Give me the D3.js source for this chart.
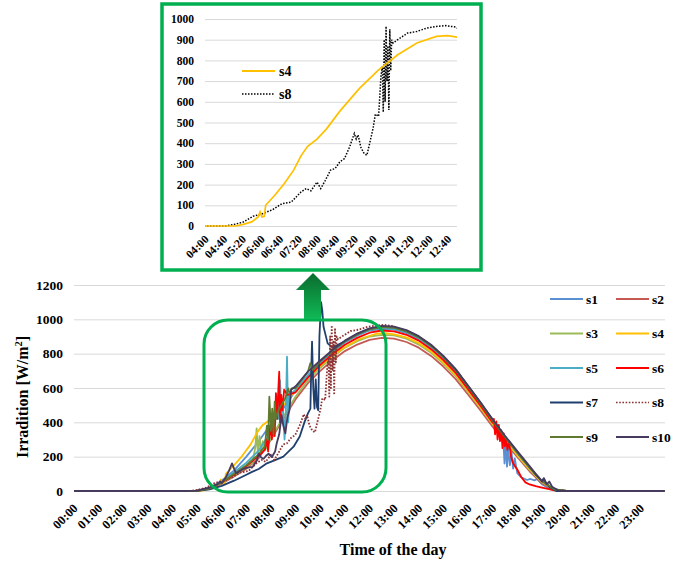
<!DOCTYPE html>
<html lang="en">
<head>
<meta charset="UTF-8">
<title>Irradiation over the day</title>
<script src="https://cdn.jsdelivr.net/npm/d3@7"></script>
<style>
  body { margin: 0; background: #fff; }
  svg { font-family: "Liberation Serif", "Times New Roman", serif; font-weight: bold; }
</style>
</head>
<body>
<script>
    // tick labels
    const hourLabels = ["00:00", "01:00", "02:00", "03:00", "04:00", "05:00", "06:00", "07:00",
        "08:00", "09:00", "10:00", "11:00", "12:00", "13:00", "14:00", "15:00",
        "16:00", "17:00", "18:00", "19:00", "20:00", "21:00", "22:00", "23:00"];
    const insetLabels = ["04:00", "04:40", "05:20", "06:00", "06:40", "07:20", "08:00",
        "08:40", "09:20", "10:00", "10:40", "11:20", "12:00", "12:40"];
    const yTicks = [0, 200, 400, 600, 800, 1000, 1200];
    const insetYTicks = [0, 100, 200, 300, 400, 500, 600, 700, 800, 900, 1000];

    const seriesNames = ["s1", "s2", "s3", "s4", "s5", "s6", "s7", "s8", "s9", "s10"];
    const seriesColors = ["#5a8fd2", "#c55a55", "#9bbb59", "#ffc000", "#4bacc6",
        "#ff0000", "#1f3f6e", "#8c3333", "#5f7a2e", "#463a5e"];

    // series: [time, W/m2]
    const s1 = [["00:00",0],["04:30",0],["05:00",2],["05:30",18],["06:00",60],["06:30",120],["07:00",200],["07:30",290],["08:00",390],["08:30",480],["09:00",585],["09:30",670],["10:00",745],["10:30",810],["11:00",865],["11:30",905],["12:00",935],["12:30",945],["13:00",940],["13:30",920],["14:00",885],["14:30",835],["15:00",770],["15:30",695],["16:00",600],["16:30",505],["17:00",405],["17:20",340],["17:26",297],["17:29",160],["17:32",280],["17:35",142],["17:38",250],["17:42",150],["17:46",230],["17:50",130],["17:54",190],["18:00",104],["18:10",80],["18:24",64],["18:32",70],["18:42",62],["18:48",70],["19:00",40],["19:20",12],["19:40",0],["23:59",0]];
    const s2 = [["00:00",0],["04:30",0],["05:00",1],["05:30",12],["06:00",42],["06:30",85],["07:00",130],["07:30",190],["08:00",300],["08:30",420],["09:00",535],["09:30",628],["10:00",700],["10:30",762],["11:00",815],["11:30",853],["12:00",880],["12:30",892],["13:00",888],["13:30",868],["14:00",835],["14:30",787],["15:00",725],["15:30",652],["16:00",562],["16:30",470],["17:00",375],["17:30",285],["18:00",198],["18:30",115],["19:00",45],["19:30",8],["20:00",0],["23:59",0]];
    const s3 = [["00:00",0],["04:30",0],["05:00",1],["05:30",14],["06:00",45],["06:30",90],["07:00",140],["07:15",165],["07:22",258],["07:25",365],["07:28",210],["07:32",320],["07:36",230],["07:40",290],["07:46",240],["08:00",310],["08:30",430],["09:00",550],["09:30",645],["10:00",718],["10:30",780],["11:00",835],["11:30",873],["12:00",900],["12:30",910],["13:00",906],["13:30",887],["14:00",853],["14:30",805],["15:00",742],["15:30",669],["16:00",577],["16:30",485],["17:00",388],["17:30",296],["18:00",208],["18:30",125],["19:00",52],["19:30",10],["20:00",0],["23:59",0]];
    const s4 = [["00:00",0],["05:05",0],["05:22",8],["05:40",20],["05:54",44],["05:58",68],["06:02",44],["06:07",47],["06:10",100],["06:30",150],["06:50",205],["07:10",270],["07:26",340],["07:40",385],["08:00",420],["08:20",468],["08:49",555],["09:31",665],["10:12",754],["10:53",827],["11:34",884],["12:16",916],["12:40",920],["13:00",912],["13:30",895],["14:00",862],["14:30",814],["15:00",750],["15:30",677],["16:00",584],["16:30",490],["17:00",392],["17:30",300],["18:00",210],["18:30",127],["19:00",53],["19:30",10],["20:00",0],["23:59",0]];
    const s5 = [["00:00",0],["04:30",0],["05:00",2],["05:30",16],["06:00",55],["06:30",110],["07:00",165],["07:30",235],["08:00",350],["08:10",390],["08:14",560],["08:18",420],["08:22",646],["08:25",450],["08:29",500],["08:33",300],["08:36",440],["08:39",782],["08:42",400],["08:45",560],["09:00",590],["09:30",675],["10:00",750],["10:30",815],["11:00",870],["11:30",910],["12:00",940],["12:30",950],["13:00",945],["13:30",925],["14:00",890],["14:30",840],["15:00",775],["15:30",698],["16:00",603],["16:30",507],["17:00",406],["17:30",310],["18:00",220],["18:30",134],["19:00",57],["19:30",11],["20:00",0],["23:59",0]];
    const s6 = [["00:00",0],["04:30",0],["05:00",1],["05:30",15],["06:00",48],["06:30",95],["07:00",145],["07:30",205],["07:45",240],["07:50",300],["07:53",230],["07:58",380],["08:02",300],["08:06",450],["08:09",320],["08:12",570],["08:15",420],["08:18",600],["08:20",695],["08:22",400],["08:25",560],["08:28",470],["08:32",590],["08:40",560],["09:00",575],["09:30",660],["10:00",735],["10:30",798],["11:00",852],["11:30",892],["12:00",922],["12:30",935],["13:00",930],["13:30",910],["14:00",876],["14:30",826],["15:00",762],["15:30",688],["16:00",593],["16:30",498],["17:00",398],["17:03",420],["17:06",330],["17:09",405],["17:12",300],["17:15",385],["17:18",290],["17:21",355],["17:24",250],["17:27",335],["17:30",260],["17:33",310],["17:36",240],["17:40",285],["17:45",200],["17:50",160],["18:00",125],["18:10",80],["18:20",50],["18:30",38],["18:45",28],["19:00",20],["19:15",12],["19:30",4],["20:00",0],["23:59",0]];
    const s7 = [["00:00",0],["04:30",0],["05:00",1],["05:30",10],["06:00",30],["06:30",60],["07:00",95],["07:15",113],["07:30",128],["07:50",161],["08:10",180],["08:30",200],["08:55",258],["09:10",317],["09:22",404],["09:30",452],["09:36",480],["09:38",700],["09:40",870],["09:43",600],["09:46",480],["09:49",650],["09:52",490],["09:55",470],["09:58",900],["10:02",1100],["10:05",1050],["10:08",957],["10:12",918],["10:18",860],["10:30",835],["11:00",872],["11:30",915],["12:00",945],["12:30",958],["13:00",953],["13:30",933],["14:00",898],["14:30",848],["15:00",783],["15:30",706],["16:00",611],["16:30",515],["17:00",414],["17:30",318],["18:00",228],["18:30",140],["18:45",95],["18:55",70],["19:00",60],["19:05",75],["19:10",45],["19:20",20],["19:35",0],["23:59",0]];
    const s8 = [["00:00",0],["04:43",0],["05:00",6],["05:22",19],["05:43",47],["06:04",60],["06:25",79],["06:45",108],["07:05",116],["07:26",165],["07:37",181],["07:47",170],["08:00",212],["08:08",181],["08:18",221],["08:29",270],["08:39",278],["08:49",310],["08:59",326],["09:10",383],["09:20",447],["09:24",420],["09:28",440],["09:34",380],["09:41",350],["09:47",342],["10:00",470],["10:05",540],["10:12",530],["10:17",722],["10:20",770],["10:22",550],["10:24",900],["10:26",600],["10:28",965],["10:30",700],["10:32",870],["10:34",560],["10:36",950],["10:38",750],["10:40",900],["10:43",884],["10:53",900],["11:14",932],["11:34",940],["11:55",956],["12:16",964],["12:36",968],["12:57",961],["13:05",950],["13:30",935],["14:00",900],["14:30",850],["15:00",785],["15:30",708],["16:00",612],["16:30",515],["17:00",412],["17:30",316],["18:00",225],["18:30",138],["19:00",58],["19:30",10],["20:00",0],["23:59",0]];
    const s9 = [["00:00",0],["04:30",0],["05:00",1],["05:30",14],["06:00",50],["06:30",100],["07:00",150],["07:30",215],["07:45",260],["07:50",380],["07:53",300],["07:56",549],["08:00",350],["08:03",480],["08:06",330],["08:09",520],["08:12",420],["08:18",470],["08:25",500],["08:35",540],["08:42",598],["08:46",560],["08:50",598],["09:00",600],["09:30",695],["09:36",745],["09:42",705],["10:00",755],["10:30",818],["11:00",872],["11:30",912],["12:00",942],["12:30",955],["13:00",950],["13:30",930],["14:00",895],["14:30",845],["15:00",780],["15:30",704],["16:00",609],["16:30",512],["17:00",411],["17:30",315],["18:00",225],["18:30",138],["19:00",58],["19:30",10],["20:00",0],["23:59",0]];
    const s10 = [["00:00",0],["04:30",0],["05:00",2],["05:30",20],["05:50",40],["05:56",54],["06:00",45],["06:10",80],["06:18",120],["06:25",161],["06:30",130],["06:35",103],["06:50",125],["07:00",135],["07:15",140],["07:25",175],["07:30",217],["07:36",195],["07:42",188],["07:48",205],["07:54",217],["08:02",198],["08:10",230],["08:14",278],["08:20",330],["08:26",443],["08:30",380],["08:35",336],["08:40",430],["08:45",470],["08:49",590],["09:00",610],["09:30",695],["10:00",760],["10:30",822],["11:00",876],["11:30",917],["12:00",947],["12:30",962],["13:00",957],["13:30",937],["14:00",902],["14:30",852],["15:00",787],["15:30",710],["16:00",615],["16:30",518],["17:00",418],["17:30",322],["18:00",232],["18:30",145],["18:45",100],["18:55",72],["19:00",55],["19:05",70],["19:12",40],["19:18",55],["19:25",25],["19:40",3],["20:00",0],["23:59",0]];

    const allSeries = [s1, s2, s3, s4, s5, s6, s7, s8, s9, s10];

    const parse = d3.timeParse("%H:%M");
    const fmt = d3.timeFormat("%H:%M");
    const toPts = arr => arr.map(d => ({t: parse(d[0]), v: d[1]}));

    const width = 685, height = 563;
    const svg = d3.select("body").append("svg")
        .attr("width", width)
        .attr("height", height);

    // strip d3's default axis font so the serif bold from css applies
    function plainAxis(g, size) {
        g.attr("font-family", null).attr("font-size", null);
        g.select(".domain").remove();
        g.selectAll("text").attr("font-size", size).attr("fill", "#000");
        return g;
    }

    // ---------- main chart ----------
    const mLeft = 74, mRight = 665, mTop = 285, mBottom = 491;
    const day0 = parse("00:00");
    const x = d3.scaleTime().domain([day0, d3.timeDay.offset(day0, 1)]).range([mLeft, mRight]);
    const y = d3.scaleLinear().domain([0, 1200]).range([mBottom, mTop]);

    // gridlines
    const grid = svg.append("g")
        .attr("transform", `translate(${mLeft},0)`)
        .call(d3.axisLeft(y).tickValues(yTicks).tickSize(-(mRight - mLeft)).tickFormat(""));
    grid.select(".domain").remove();
    grid.selectAll("line").attr("stroke", "#d9d9d9").attr("stroke-width", 1);

    // y labels
    const yAx = svg.append("g")
        .attr("transform", `translate(${mLeft},0)`)
        .call(d3.axisLeft(y).tickValues(yTicks).tickFormat(d3.format("d")).tickSize(0).tickPadding(11));
    plainAxis(yAx, 13.5);

    // x labels
    const xAx = svg.append("g")
        .attr("transform", `translate(0,${mBottom})`)
        .call(d3.axisBottom(x).tickValues(hourLabels.map(parse)).tickFormat(fmt).tickSize(0));
    plainAxis(xAx, 12.5);
    xAx.selectAll("text")
        .attr("y", 0).attr("dy", null)
        .attr("text-anchor", "end")
        .attr("transform", "translate(4,18) rotate(-45)");

    const line = d3.line().x(d => x(d.t)).y(d => y(d.v));

    allSeries.forEach((s, i) => {
        svg.append("path")
            .datum(toPts(s))
            .attr("fill", "none")
            .attr("stroke", seriesColors[i])
            .attr("stroke-width", 1.8)
            .attr("stroke-dasharray", i === 7 ? "1.6,1.6" : null)
            .attr("stroke-linejoin", "round")
            .attr("d", line);
    });

    // axis titles
    const yTitle = svg.append("text")
        .attr("transform", "translate(28,397) rotate(-90)")
        .attr("text-anchor", "middle")
        .attr("font-size", 16);
    yTitle.append("tspan").text("Irradition [W/m");
    yTitle.append("tspan").attr("dy", -6).attr("font-size", 10.5).text("2");
    yTitle.append("tspan").attr("dy", 6).text("]");

    svg.append("text")
        .attr("x", 393).attr("y", 555)
        .attr("text-anchor", "middle")
        .attr("font-size", 16)
        .text("Time of the day");

    // legend
    const legend = svg.append("g");
    seriesNames.forEach((name, i) => {
        const col = i % 2, row = Math.floor(i / 2);
        const lx = col === 0 ? 550 : 616;
        const ly = 299 + row * 34.5;
        legend.append("line")
            .attr("x1", lx).attr("x2", lx + 33)
            .attr("y1", ly).attr("y2", ly)
            .attr("stroke", seriesColors[i])
            .attr("stroke-width", i === 7 ? 1.6 : 2)
            .attr("stroke-dasharray", i === 7 ? "1.6,1.6" : null);
        legend.append("text")
            .attr("x", lx + 36).attr("y", ly + 4.5)
            .attr("font-size", 13.5)
            .text(name);
    });

    // highlight box + arrow
    svg.append("rect")
        .attr("x", 204).attr("y", 320).attr("width", 182).attr("height", 172)
        .attr("rx", 24)
        .attr("fill", "none").attr("stroke", "#00b050").attr("stroke-width", 3);

    const grad = svg.append("defs").append("linearGradient")
        .attr("id", "arrow-grad")
        .attr("x1", 0).attr("y1", 0).attr("x2", 0).attr("y2", 1);
    grad.append("stop").attr("offset", "0%").attr("stop-color", "#0b6b2e");
    grad.append("stop").attr("offset", "100%").attr("stop-color", "#10b955");

    svg.append("path")
        .attr("d", "M313,273 L330,290 L321,290 L321,319 L304,319 L304,290 L296,290 Z")
        .attr("fill", "url(#arrow-grad)");

    // ---------- inset ----------
    svg.append("rect")
        .attr("x", 162).attr("y", 4).attr("width", 319).attr("height", 266)
        .attr("fill", "#fff").attr("stroke", "#00b050").attr("stroke-width", 3.5);

    const iLeft = 205, iRight = 457, iTop = 19, iBottom = 226;
    const ix = d3.scaleTime().domain([parse("04:00"), parse("13:00")]).range([iLeft, iRight]);
    const iy = d3.scaleLinear().domain([0, 1000]).range([iBottom, iTop]);

    const iGrid = svg.append("g")
        .attr("transform", `translate(${iLeft},0)`)
        .call(d3.axisLeft(iy).tickValues(insetYTicks).tickSize(-(iRight - iLeft)).tickFormat(""));
    iGrid.select(".domain").remove();
    iGrid.selectAll("line").attr("stroke", "#d9d9d9");

    const iyAx = svg.append("g")
        .attr("transform", `translate(${iLeft},0)`)
        .call(d3.axisLeft(iy).tickValues(insetYTicks).tickFormat(d3.format("d")).tickSize(0).tickPadding(11));
    plainAxis(iyAx, 11.5);

    const ixAx = svg.append("g")
        .attr("transform", `translate(0,${iBottom})`)
        .call(d3.axisBottom(ix).tickValues(insetLabels.map(parse)).tickFormat(fmt).tickSize(0));
    plainAxis(ixAx, 11.5);
    ixAx.selectAll("text")
        .attr("y", 0).attr("dy", null)
        .attr("text-anchor", "end")
        .attr("transform", "translate(4,14) rotate(-45)");

    svg.append("clipPath").attr("id", "inset-clip")
        .append("rect").attr("x", iLeft).attr("y", 0).attr("width", iRight - iLeft).attr("height", iBottom + 2);

    const iLine = d3.line().x(d => ix(d.t)).y(d => iy(d.v));
    const inset = svg.append("g").attr("clip-path", "url(#inset-clip)");
    inset.append("path")
        .datum(toPts(s8))
        .attr("fill", "none").attr("stroke", "#000")
        .attr("stroke-width", 1.5).attr("stroke-dasharray", "1.5,1.5")
        .attr("d", iLine);
    inset.append("path")
        .datum(toPts(s4))
        .attr("fill", "none").attr("stroke", "#ffc000")
        .attr("stroke-width", 1.7)
        .attr("d", iLine);

    // inset legend
    [["s4", "#ffc000", null, 71], ["s8", "#000", "1.5,1.5", 94]].forEach(d => {
        svg.append("line")
            .attr("x1", 242).attr("x2", 275).attr("y1", d[3]).attr("y2", d[3])
            .attr("stroke", d[1]).attr("stroke-width", d[2] ? 1.5 : 2)
            .attr("stroke-dasharray", d[2]);
        svg.append("text")
            .attr("x", 279).attr("y", d[3] + 5)
            .attr("font-size", 14)
            .text(d[0]);
    });
</script>
</body>
</html>
